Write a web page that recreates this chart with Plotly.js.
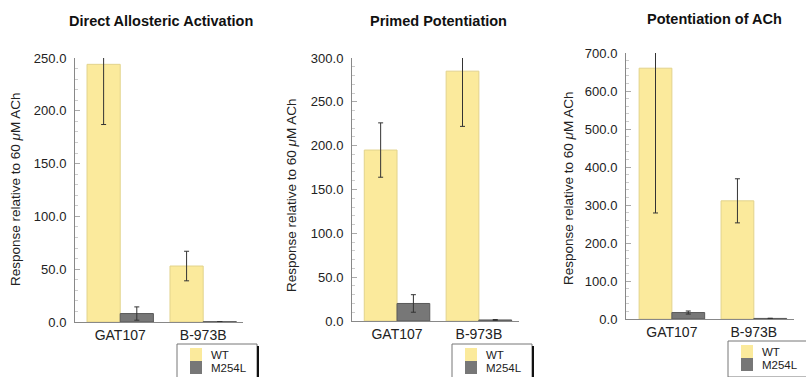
<!DOCTYPE html>
<html><head><meta charset="utf-8">
<script src="https://cdn.plot.ly/plotly-3.0.1.min.js"></script>
<style>html,body{margin:0;padding:0;background:#fff}#c{width:806px;height:377px}</style>
</head><body><div id="c"></div>
<script>
const categories = ["GAT107", "B-973B"];
const seriesNames = ["WT", "M254L"];
const panelTitles = ["Direct Allosteric Activation", "Primed Potentiation", "Potentiation of ACh"];
const yTitle = "Response relative to 60 <i>μ</i>M ACh";

// Panel 1: Direct Allosteric Activation
const p1WT = [244, 53];
const p1WTerr = [57, 14];
const p1M = [8, 0.3];
const p1Merr = [6.3, 0];
// Panel 2: Primed Potentiation
const p2WT = [195, 285];
const p2WTerr = [31, 63];
const p2M = [20, 1.2];
const p2Merr = [10, 0.5];
// Panel 3: Potentiation of ACh
const p3WT = [660, 311];
const p3WTerr = [381, 58];
const p3M = [17, 1.5];
const p3Merr = [4, 0.5];

const yMax = [250, 300, 700];
const yDtick = [50, 50, 100];
const yMinor = [10, 10, 20];

const WT_FILL = "#FBEA9C", WT_LINE = "#E2D38C";
const M_FILL = "#777777", M_LINE = "#5a5a5a";
const FONT = "Liberation Sans, Arial, sans-serif";

const data = [];
const panels = [[p1WT,p1WTerr,p1M,p1Merr],[p2WT,p2WTerr,p2M,p2Merr],[p3WT,p3WTerr,p3M,p3Merr]];
panels.forEach((p, i) => {
  const sfx = i === 0 ? "" : String(i + 1);
  data.push({
    type: "bar", name: seriesNames[0], x: categories, y: p[0],
    xaxis: "x" + sfx, yaxis: "y" + sfx, showlegend: false,
    marker: {color: WT_FILL, line: {color: WT_LINE, width: 1}},
    error_y: {type: "data", array: p[1], visible: true, color: "#333", thickness: 1, width: 2.5}
  });
  data.push({
    type: "bar", name: seriesNames[1], x: categories, y: p[2],
    xaxis: "x" + sfx, yaxis: "y" + sfx, showlegend: false,
    marker: {color: M_FILL, line: {color: M_LINE, width: 1}},
    error_y: {type: "data", array: p[3], visible: true, color: "#333", thickness: 1, width: 2.5}
  });
});

const W = 806, H = 377;
const px = v => v / W, py = v => (H - v) / H;
const boxes = [
  {x0: 75, x1: 243, top: 58, bot: 322, xr: [-0.545, 1.48], ytx: 15, yty: 189, title: 161, ty: 21, leg: [177, 344, 257, 380]},
  {x0: 352, x1: 519, top: 58, bot: 321, xr: [-0.55, 1.49], ytx: 292, yty: 195, title: 438, ty: 21, leg: [452, 344, 532, 380]},
  {x0: 626, x1: 794, top: 53, bot: 319, xr: [-0.56, 1.49], ytx: 568, yty: 188, title: 714, ty: 19, leg: [728, 341, 812, 377]}
];

const layout = {
  width: W, height: H, margin: {l: 0, r: 0, t: 0, b: 0, autoexpand: false},
  paper_bgcolor: "#fff", plot_bgcolor: "#fff", showlegend: false,
  font: {family: FONT, size: 13, color: "#222"},
  barmode: "group", bargap: 0.2, bargroupgap: 0,
  annotations: [], shapes: []
};

boxes.forEach((b, i) => {
  const sfx = i === 0 ? "" : String(i + 1);
  layout["xaxis" + sfx] = {
    domain: [px(b.x0), px(b.x1)], anchor: "y" + sfx, range: b.xr,
    showline: true, linecolor: "#888", linewidth: 1, ticks: "", showgrid: false,
    tickfont: {size: 14, color: "#222"}, fixedrange: true, zeroline: false
  };
  layout["yaxis" + sfx] = {
    domain: [py(b.bot), py(b.top)], anchor: "x" + sfx, range: [0, yMax[i]],
    dtick: yDtick[i], tickformat: ".1f", showline: true, linecolor: "#888", linewidth: 1,
    ticks: "inside", ticklen: 5, tickcolor: "#aaa", ticklabelstandoff: 5,
    minor: {dtick: yMinor[i], ticks: "inside", ticklen: 3, tickcolor: "#ccc"},
    showgrid: false, zeroline: false, tickfont: {size: 13, color: "#222"}, fixedrange: true
  };
  layout.annotations.push({
    text: "<b>" + panelTitles[i] + "</b>", xref: "paper", yref: "paper",
    x: px(b.title), y: py(b.ty), xanchor: "center", yanchor: "middle", showarrow: false,
    font: {size: 14.5, color: "#111"}
  });
  layout.annotations.push({
    text: yTitle, xref: "paper", yref: "paper", textangle: -90,
    x: px(b.ytx), y: py(b.yty), xanchor: "center", yanchor: "middle", showarrow: false,
    font: {size: 13.5, color: "#222"}
  });
  // legend box drawn by hand
  const [lx0, ly0, lx1, ly1] = b.leg;
  layout.shapes.push({type: "rect", xref: "paper", yref: "paper",
    x0: px(lx0), x1: px(lx1), y0: py(ly1), y1: py(ly0),
    line: {color: "#777", width: 1}, fillcolor: "#fff"});
  layout.shapes.push({type: "line", xref: "paper", yref: "paper",
    x0: px(lx1 + 1), x1: px(lx1 + 1), y0: py(ly1), y1: py(ly0 + 2),
    line: {color: "#111", width: 2}});
  const sx = lx0 + 13, sy = ly0 + 4, step = 13;
  layout.shapes.push({type: "rect", xref: "paper", yref: "paper",
    x0: px(sx), x1: px(sx + 12), y0: py(sy + step), y1: py(sy),
    line: {width: 0}, fillcolor: WT_FILL});
  layout.shapes.push({type: "rect", xref: "paper", yref: "paper",
    x0: px(sx), x1: px(sx + 12), y0: py(sy + 2 * step), y1: py(sy + step),
    line: {width: 0}, fillcolor: M_FILL});
  seriesNames.forEach((n, k) => {
    layout.annotations.push({
      text: n, xref: "paper", yref: "paper", x: px(lx0 + 33), y: py(sy + step / 2 + step * k),
      xanchor: "left", yanchor: "middle", showarrow: false,
      font: {size: 11.5, color: "#222"}, borderpad: 0
    });
  });
});

Plotly.newPlot("c", data, layout, {staticPlot: true});
</script>
</body></html>
